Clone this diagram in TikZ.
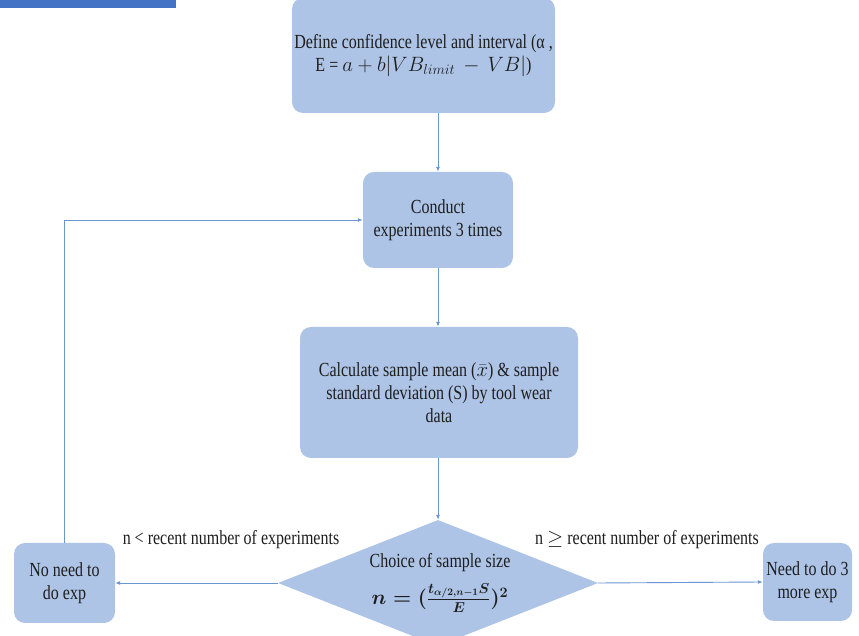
\documentclass[tikz,border=0pt]{standalone}
\usepackage{fontspec}
\setmainfont{Liberation Serif}[FakeStretch=0.8]
\usepackage{amsmath}
\usetikzlibrary{shapes.geometric,arrows.meta}
\definecolor{boxfill}{HTML}{AEC4E6}
\definecolor{linecol}{HTML}{6A96D4}
\definecolor{barcol}{HTML}{4472C4}
\definecolor{txt}{HTML}{1E1E1E}
\newcommand{\sampleformula}{$n = (\frac{t_{\alpha/2,n-1}S}{E})^{2}$}
\tikzset{
  flowbox/.style={draw=none, fill=boxfill, rounded corners=11pt, align=center, inner sep=0pt,
    font=\fontsize{20}{23}\selectfont, text=txt},
  decision/.style={diamond, draw=none, fill=boxfill, aspect=2.54, inner sep=0pt},
  conn/.style={draw=linecol, line width=0.9pt, -{Latex[length=5pt,width=4pt]}},
  lbl/.style={font=\fontsize{20}{23}\selectfont, text=txt, inner sep=0pt}
}
\begin{document}
\begin{tikzpicture}[x=1pt,y=1pt]
\clip (0,0) rectangle (859,636);
\fill[white] (0,0) rectangle (859,636);
\fill[barcol] (0,628) rectangle (176,636);
\node[flowbox, minimum width=263pt, minimum height=115pt] (b1) at (423.5,580.5)
  {Define confidence level and interval (α ,\\ E = $a + b|VB_{limit}\, - \,VB|$)};
\node[flowbox, minimum width=150pt, minimum height=96pt] (b2) at (438,416)
  {Conduct\\experiments 3 times};
\node[flowbox, minimum width=278pt, minimum height=131pt] (b3) at (439,243.5)
  {Calculate sample mean ($\bar{x}$) \& sample\\standard deviation (S) by tool wear\\data};
\node[decision, minimum width=320pt, minimum height=126pt] (d) at (438,53) {};
\node[lbl] (dt) at (440,73) {Choice of sample size};
\node[lbl, font=\fontsize{20}{23}\selectfont\boldmath] (df) at (440,38) {\sampleformula};
\node[flowbox, minimum width=101pt, minimum height=80pt] (no) at (64.5,53)
  {No need to\\do exp};
\node[flowbox, minimum width=89pt, minimum height=78pt] (yes) at (807.5,54)
  {Need to do 3\\more exp};
\node[lbl] (ln) at (231,96) {n < recent number of experiments};
\node[lbl] (ly) at (647,96) {n $\geq$ recent number of experiments};
\draw[conn] (b2.north |- b1.south) -- (b2.north);
\draw[conn] (b2.south) -- (b2.south |- b3.north);
\draw[conn] (d.north |- b3.south) -- (d.north);
\draw[conn] (d.west) -- (no.east);
\draw[conn] (d.east) -- (yes.west);
\draw[conn] (no.north) |- (b2.west);
\end{tikzpicture}
\end{document}
